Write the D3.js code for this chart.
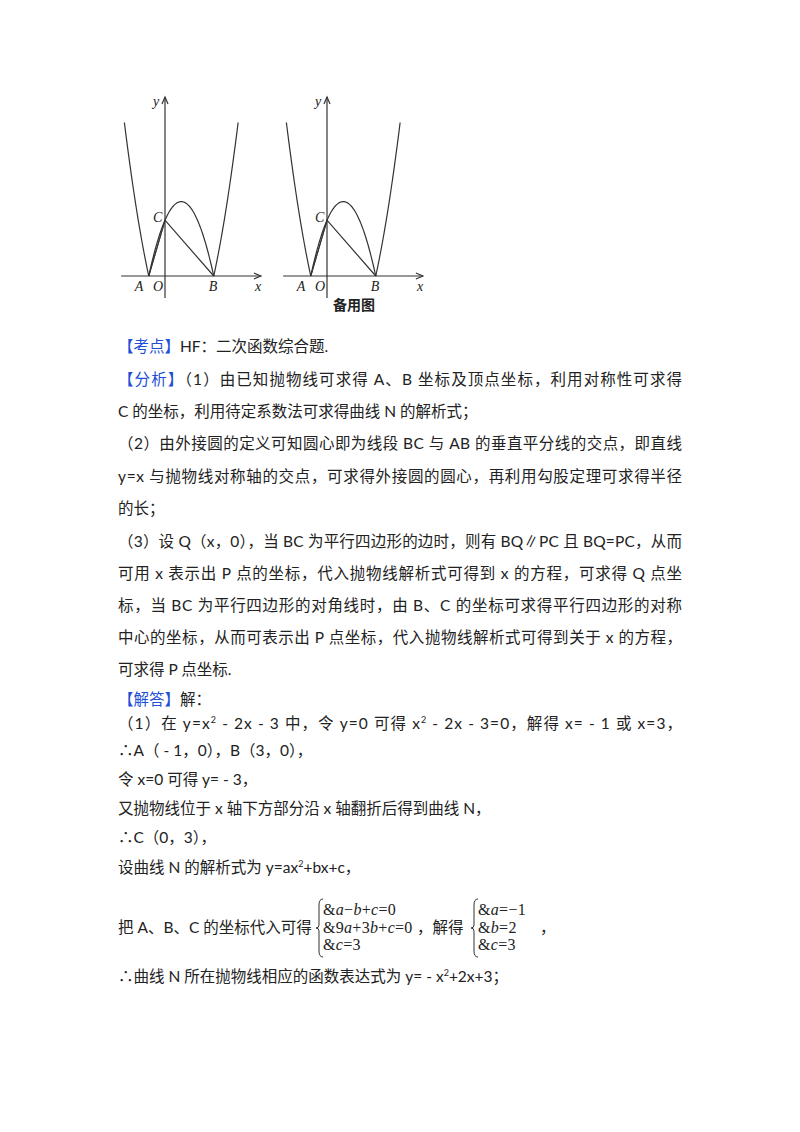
<!DOCTYPE html>
<html><head><meta charset="utf-8">
<script src="https://cdn.jsdelivr.net/npm/d3@7"></script>
<style>body{margin:0;background:#fff}</style></head>
<body><svg id="s" width="800" height="1132"></svg>
<script>
const xDomain=[-2.5,4.5];
const curveOuter=x=>x*x-2*x-3;
const curveN=x=>-x*x+2*x+3;
const points={A:[-1,0],B:[3,0],C:[0,3]};
const graphOrigins=[[165,276],[327,276]];
const lines=[
 {y:347,parts:[["【考点】","b"],["HF：二次函数综合题."]]},
 {y:380,j:1,parts:[["【分析】","b"],["（1）由已知抛物线可求得 A、B 坐标及顶点坐标，利用对称性可求得"]]},
 {y:412,parts:[["C 的坐标，利用待定系数法可求得曲线 N 的解析式；"]]},
 {y:444,j:1,parts:[["（2）由外接圆的定义可知圆心即为线段 BC 与 AB 的垂直平分线的交点，即直线"]]},
 {y:477,j:1,parts:[["y=x 与抛物线对称轴的交点，可求得外接圆的圆心，再利用勾股定理可求得半径"]]},
 {y:509,parts:[["的长；"]]},
 {y:542,j:1,parts:[["（3）设 Q（x，0），当 BC 为平行四边形的边时，则有 BQ∥PC 且 BQ=PC，从而"]]},
 {y:574,j:1,parts:[["可用 x 表示出 P 点的坐标，代入抛物线解析式可得到 x 的方程，可求得 Q 点坐"]]},
 {y:606,j:1,parts:[["标，当 BC 为平行四边形的对角线时，由 B、C 的坐标可求得平行四边形的对称"]]},
 {y:638,j:1,parts:[["中心的坐标，从而可表示出 P 点坐标，代入抛物线解析式可得到关于 x 的方程，"]]},
 {y:670,parts:[["可求得 P 点坐标."]]},
 {y:700,parts:[["【解答】","b"],["解："]]},
 {y:724,j:1,parts:[["（1）在 y=x"],["2","sup"],[" - 2x - 3 中，令 y=0 可得 x"],["2","sup"],[" - 2x - 3=0，解得 x= - 1 或 x=3，"]]},
 {y:751,parts:[["∴A（ - 1，0），B（3，0），"]]},
 {y:780,parts:[["令 x=0 可得 y= - 3，"]]},
 {y:809,parts:[["又抛物线位于 x 轴下方部分沿 x 轴翻折后得到曲线 N，"]]},
 {y:838,parts:[["∴C（0，3），"]]},
 {y:868,parts:[["设曲线 N 的解析式为 y=ax"],["2","sup"],["+bx+c，"]]},
 {y:928,parts:[["把 A、B、C 的坐标代入可得"]]},
 {y:977,parts:[["∴曲线 N 所在抛物线相应的函数表达式为 y= - x"],["2","sup"],["+2x+3；"]]}
];
const sys1=["&a−b+c=0","&9a+3b+c=0","&c=3"];
const sys2=["&a=−1","&b=2","&c=3"];
const svg=d3.select("#s");
const F='Lato,"Noto Sans CJK SC",sans-serif';
lines.forEach(l=>{
 const t=svg.append("text").attr("x",118).attr("y",l.y+5).attr("font-size",15.5).attr("font-family",F).attr("fill","#222");
 if(l.j)t.attr("textLength",564).attr("lengthAdjust","spacing");
 l.parts.forEach((p,i)=>{
  const ts=t.append("tspan").text(p[0]);
  if(p[1]=="b")ts.attr("fill","#1f4fd6");
  if(p[1]=="sup")ts.attr("font-size",9).attr("dy",-6);
  if(i>0&&l.parts[i-1][1]=="sup")ts.attr("dy",6);
 });
});
const SF='"Liberation Serif","DejaVu Serif",serif';
function brace(x,y0,y1){
 const m=(y0+y1)/2;
 svg.append("path").attr("d",`M${x+4},${y0} Q${x},${y0} ${x},${y0+6} L${x},${m-3} Q${x},${m} ${x-3},${m} Q${x},${m} ${x},${m+3} L${x},${y1-6} Q${x},${y1} ${x+4},${y1}`).attr("fill","none").attr("stroke","#333").attr("stroke-width",1);
}
function sys(x,arr){
 brace(x,899,957);
 arr.forEach((s,i)=>{
  const t=svg.append("text").attr("x",x+4).attr("y",915+i*17.5).attr("font-size",16).attr("font-family",SF).attr("fill","#222").attr("letter-spacing",0.3);
  s.split(/([a-c])/).forEach(p=>{if(p)t.append("tspan").text(p).attr("font-style",/^[a-c]$/.test(p)?"italic":"normal");});
 });
}
sys(319,sys1);
svg.append("text").attr("x",417).attr("y",933).attr("font-size",15.5).attr("font-family",F).attr("fill","#222").text("，解得");
sys(474,sys2);
svg.append("text").attr("x",540).attr("y",933).attr("font-size",15.5).attr("font-family",F).attr("fill","#222").text("，");
graphOrigins.forEach((o,gi)=>{
 const x=d3.scaleLinear().domain([0,1]).range([o[0],o[0]+16.25]);
 const y=d3.scaleLinear().domain([0,1]).range([o[1],o[1]-18.6]);
 const g=svg.append("g").attr("stroke","#333").attr("fill","none").attr("stroke-width",1.2);
 const ln=d3.line().x(d=>x(d[0])).y(d=>y(d[1]));
 const left=d3.range(xDomain[0],-1.0001,0.05).concat([-1]).map(v=>[v,curveOuter(v)]);
 const right=[3].concat(d3.range(3.05,xDomain[1]+0.001,0.05)).map(v=>[v,curveOuter(v)]);
 const mid=d3.range(-1,3.0001,0.05).map(v=>[v,curveN(v)]);
 [left,right,mid].forEach(d=>g.append("path").attr("d",ln(d)));
 g.append("path").attr("d",ln([points.A,points.C,points.B]));
 g.append("path").attr("d",ln([[-0.98,0.05],[0.01,3.0]])).attr("stroke-width",0.8);
 g.append("line").attr("x1",x(-2.7)).attr("x2",x(5.9)).attr("y1",o[1]).attr("y2",o[1]);
 g.append("path").attr("d",`M${x(5.9)-7},${o[1]-3} L${x(5.9)},${o[1]} L${x(5.9)-7},${o[1]+3}`);
 g.append("line").attr("x1",o[0]).attr("x2",o[0]).attr("y1",o[1]+22).attr("y2",97);
 g.append("path").attr("d",`M${o[0]-3},104 L${o[0]},97 L${o[0]+3},104`);
 const lab=(t,px,py)=>svg.append("text").attr("x",px).attr("y",py).attr("font-family",SF).attr("font-style","italic").attr("font-size",14).attr("fill","#222").text(t);
 lab("y",o[0]-12,106);lab("x",o[0]+90,291);
 lab("A",x(-1)-14,291);lab("O",o[0]-12,291);lab("B",x(3)-5,291);lab("C",o[0]-12,222);
 if(gi==1)svg.append("text").attr("x",o[0]+27).attr("y",310).attr("text-anchor","middle").attr("font-family",F).attr("font-weight","bold").attr("font-size",14).attr("fill","#222").text("备用图");
});
</script></body></html>
